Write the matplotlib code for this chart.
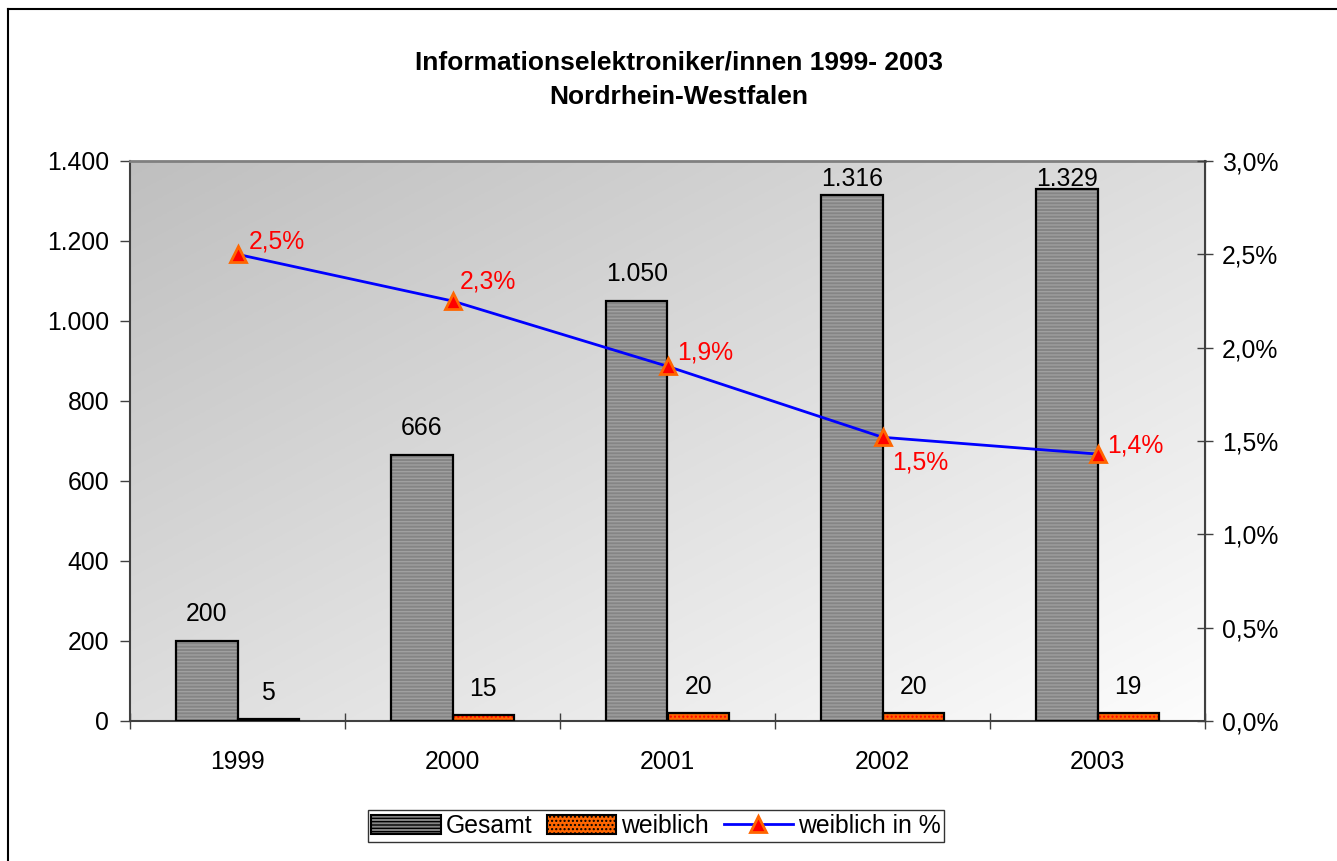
import matplotlib
matplotlib.use("Agg")
import matplotlib.pyplot as plt
import numpy as np
from matplotlib.ticker import FuncFormatter, FixedLocator
from matplotlib.lines import Line2D
from matplotlib.patches import Patch

years = ["1999", "2000", "2001", "2002", "2003"]
gesamt = [200, 666, 1050, 1316, 1329]
weiblich = [5, 15, 20, 20, 19]
weiblich_pct = [2.5, 2.25, 1.9, 1.52, 1.43]
pct_labels = ["2,5%", "2,3%", "1,9%", "1,5%", "1,4%"]
gesamt_labels = ["200", "666", "1.050", "1.316", "1.329"]
weiblich_labels = ["5", "15", "20", "20", "19"]

plt.rcParams['font.family'] = ['Liberation Sans', 'DejaVu Sans']
plt.rcParams['hatch.linewidth'] = 1.0

FS = 17.8
W, H = 1337, 861
fig = plt.figure(figsize=(W/100, H/100), dpi=100)
ax = fig.add_axes([130/W, 1-721/H, 1075/W, 560/H])

# figure border (top and left)
fig.add_artist(Line2D([8/W, 8/W], [0, 1-9/H], color='black', lw=1.5, transform=fig.transFigure))
fig.add_artist(Line2D([8/W, 1], [1-9/H, 1-9/H], color='black', lw=1.5, transform=fig.transFigure))

# gradient background
nx, ny = 200, 200
xx, yy = np.meshgrid(np.linspace(0, 1, nx), np.linspace(0, 1, ny))
t = (xx + yy) / 2
c0 = np.array([0.75, 0.75, 0.75])
c1 = np.array([0.99, 0.99, 0.99])
img = c0[None, None, :] * (1 - t[..., None]) + c1[None, None, :] * t[..., None]
ax.imshow(img, extent=[0, 1, 0, 1], transform=ax.transAxes, aspect='auto', zorder=0, origin='upper')

x = np.arange(len(years))
bw = 0.285
ax.bar(x - bw/2, gesamt, width=bw, color='#858585', edgecolor='#a0a0a0', hatch='-----', linewidth=0, zorder=2)
ax.bar(x - bw/2, gesamt, width=bw, fill=False, edgecolor='black', linewidth=1.6, zorder=3)
ax.bar(x + bw/2, weiblich, width=bw, color='#ff6600', edgecolor='#ff0000', hatch='....', linewidth=0, zorder=2)
ax.bar(x + bw/2, weiblich, width=bw, fill=False, edgecolor='black', linewidth=1.6, zorder=3)

ax.set_xlim(-0.5, len(years) - 0.5)
ax.set_ylim(0, 1400)

# data labels; Gesamt labels are kept inside the plot area (as in the original)
ymax = ax.get_ylim()[1]
for i in range(len(years)):
    room_px = (ymax - gesamt[i]) / ymax * 560  # pixels between bar top and plot top
    off_px = min(27, room_px - 18 + 27) if room_px < 45 else 27
    off_px = min(27, max(off_px, 0)) if room_px >= 45 else max(room_px - 18, -20)
    ax.annotate(gesamt_labels[i], (x[i] - bw/2, gesamt[i]), xytext=(0, off_px * 0.72), textcoords='offset points',
                ha='center', va='center', fontsize=FS, zorder=5)
    ax.annotate(weiblich_labels[i], (x[i] + bw/2, weiblich[i]), xytext=(0, 19), textcoords='offset points',
                ha='center', va='center', fontsize=FS, zorder=5)

ax.set_yticks(np.arange(0, 1401, 200))
ax.yaxis.set_major_formatter(FuncFormatter(lambda v, p: f"{int(v):,}".replace(",", ".")))
ax.xaxis.set_major_locator(FixedLocator(np.arange(-0.5, len(years), 1.0)))
ax.xaxis.set_minor_locator(FixedLocator(x))
ax.set_xticklabels([], minor=False)
ax.set_xticklabels(years, minor=True)
ax.tick_params(axis='x', which='major', direction='inout', length=12, width=1, color='#404040')
ax.tick_params(axis='x', which='minor', length=0, pad=21, labelsize=FS)
ax.tick_params(axis='y', direction='out', length=7, width=1, color='#404040', pad=8, labelsize=FS)

ax.spines['top'].set_color('#808080')
ax.spines['top'].set_linewidth(2)
ax.spines['left'].set_color('#404040')
ax.spines['left'].set_linewidth(1.5)
ax.spines['bottom'].set_color('#404040')
ax.spines['bottom'].set_linewidth(1.5)

ax2 = ax.twinx()
ax2.set_ylim(0, 3.0)
ax2.set_yticks(np.arange(0, 3.01, 0.5))
ax2.yaxis.set_major_formatter(FuncFormatter(lambda v, p: f"{v:.1f}%".replace(".", ",")))
ax2.tick_params(axis='y', direction='inout', length=12, width=1, color='#404040', pad=6, labelsize=FS)
ax2.spines['right'].set_color('#404040')
ax2.spines['right'].set_linewidth(1.5)
for s in ['top', 'left', 'bottom']:
    ax2.spines[s].set_visible(False)

ax2.plot(x, weiblich_pct, color='#0000ff', lw=2, marker='^', markersize=11,
         markerfacecolor='#ff0000', markeredgecolor='#ff6600', markeredgewidth=2, zorder=4)
offsets = [(8, 9), (5, 14), (7, 10), (7, -18), (7, 6)]
for i in range(len(years)):
    ax2.annotate(pct_labels[i], (x[i], weiblich_pct[i]), xytext=offsets[i], textcoords='offset points',
                 ha='left', va='center', fontsize=FS, color='#ff0000', zorder=5)

fig.text(679/W, 1-62/H, "Informationselektroniker/innen 1999- 2003", ha='center', va='center',
         fontsize=19, fontweight='bold')
fig.text(679/W, 1-97/H, "Nordrhein-Westfalen", ha='center', va='center', fontsize=19, fontweight='bold')

handles = [
    Patch(facecolor='#858585', edgecolor='black', hatch='-----', linewidth=1.5),
    Patch(facecolor='#ff6600', edgecolor='black', hatch='....', linewidth=1.5),
    Line2D([], [], color='#0000ff', lw=2, marker='^', markersize=11, markerfacecolor='#ff0000',
           markeredgecolor='#ff6600', markeredgewidth=2),
]
leg = fig.legend(handles, ["Gesamt", "weiblich", "weiblich in %"], loc='center',
                 bbox_to_anchor=(656/W, 1-826/H), ncol=3, fontsize=FS, frameon=True, fancybox=False,
                 edgecolor='black', handlelength=2.8, handletextpad=0.2, columnspacing=0.6,
                 borderpad=0.15, handleheight=0.8)
leg.get_frame().set_linewidth(1.0)

fig.savefig("out.png", dpi=100)
